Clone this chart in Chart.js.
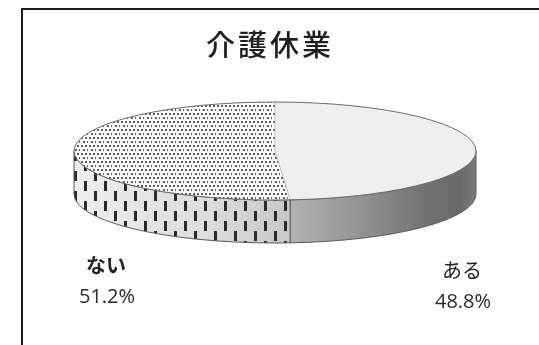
<!DOCTYPE html>
<html lang="ja">
<head>
<meta charset="utf-8">
<title>介護休業</title>
<script src="https://cdn.jsdelivr.net/npm/chart.js@4.4.1/dist/chart.umd.min.js"></script>
<style>
  html, body { margin: 0; padding: 0; background: #fff; overflow: hidden; }
  #wrap { position: relative; width: 539px; height: 345px; }
  #frame { position: absolute; left: 21px; top: 8px; width: 600px; height: 400px; border: 2px solid #1c1c1c; box-sizing: border-box; }
  canvas { position: absolute; left: 0; top: 0; }
</style>
</head>
<body>
<div id="wrap">
  <div id="frame"></div>
  <canvas id="careLeave" width="539" height="345"></canvas>
</div>
<script>
// data
var chartTitle = '介護休業';
var categories = ['ある', 'ない'];
var shares = [48.8, 51.2];

// look of the flattened "3d" pie
var RX = 201;      // half width of the top ellipse
var RY = 49;       // half height of the top ellipse
var DEPTH = 43;    // thickness of the side wall
// label anchors, relative to the pie centre
var labelOffsets = [[187, 119], [-169, 114]];
var labelBold = [false, true];

// small tiles for the pattern fills
function makeTile(w, h, bg, draw) {
  var c = document.createElement('canvas');
  c.width = w; c.height = h;
  var g = c.getContext('2d');
  if (bg) { g.fillStyle = bg; g.fillRect(0, 0, w, h); }
  draw(g);
  return c;
}

var ctx = document.getElementById('careLeave');
var g0 = ctx.getContext('2d');

var dotTile = makeTile(8, 8, '#ffffff', function (g) {
  g.fillStyle = '#5e5e5e';
  [[0, 0], [4, 0], [2, 4], [6, 4]].forEach(function (p) {
    g.fillRect(p[0] + 1, p[1] + 1, 2, 2);
  });
});
var dashTile = makeTile(20, 20, null, function (g) {
  g.fillStyle = '#2a2a2a';
  g.fillRect(4, 1, 3, 10);
  g.fillRect(14, 11, 3, 10);
  g.fillRect(14, -9, 3, 10);
});
var dotPattern = g0.createPattern(dotTile, 'repeat');
var dashPattern = g0.createPattern(dashTile, 'repeat');

function sidePath(c, cx, cy, a1, a2) {
  c.beginPath();
  c.ellipse(cx, cy, RX, RY, 0, a1, a2);
  c.ellipse(cx, cy + DEPTH, RX, RY, 0, a2, a1, true);
  c.closePath();
}

// squashes the library's pie into an ellipse and adds the side wall
var pie3d = {
  id: 'pie3d',
  beforeDatasetsDraw: function (chart) {
    var c = chart.ctx;
    var arcs = chart.getDatasetMeta(0).data;
    var cx = arcs[0].x, cy = arcs[0].y, r = arcs[0].outerRadius;
    var sx = RX / r, sy = RY / r;

    // front wall, only the part between 0 and PI faces the viewer
    arcs.forEach(function (arc, i) {
      var a1 = Math.max(arc.startAngle, 0);
      var a2 = Math.min(arc.endAngle, Math.PI);
      if (a2 <= a1) return;
      c.save();
      sidePath(c, cx, cy, a1, a2);
      if (i === 0) {
        var grad = c.createLinearGradient(cx, 0, cx + RX, 0);
        grad.addColorStop(0, '#b8b8b8');
        grad.addColorStop(0.35, '#9a9a9a');
        grad.addColorStop(0.75, '#727272');
        grad.addColorStop(0.92, '#6a6a6a');
        grad.addColorStop(1, '#7a7a7a');
        c.fillStyle = grad;
        c.fill();
      } else {
        var grad2 = c.createLinearGradient(cx - RX, 0, cx + 20, 0);
        grad2.addColorStop(0, '#eeeeee');
        grad2.addColorStop(0.6, '#dddddd');
        grad2.addColorStop(1, '#c6c6c6');
        c.fillStyle = grad2;
        c.fill();
        c.fillStyle = dashPattern;
        c.fill();
      }
      c.strokeStyle = '#5a5a5a';
      c.lineWidth = 1;
      c.stroke();
      c.restore();
    });

    var m = new DOMMatrix().translate(cx, cy).scale(sx, sy).translate(-cx, -cy);
    dotPattern.setTransform(m.inverse());
    c.save();
    c.setTransform(c.getTransform().multiply(m));
  },
  afterDatasetsDraw: function (chart) {
    var c = chart.ctx;
    c.restore();
    var arcs = chart.getDatasetMeta(0).data;
    var cx = arcs[0].x, cy = arcs[0].y;
    c.save();
    c.strokeStyle = '#b0b0b0';
    c.lineWidth = 0.8;
    arcs.forEach(function (arc) {
      c.beginPath();
      c.moveTo(cx, cy);
      c.lineTo(cx + RX * Math.cos(arc.startAngle), cy + RY * Math.sin(arc.startAngle));
      c.stroke();
    });
    c.strokeStyle = '#6a6a6a';
    c.lineWidth = 1;
    c.beginPath();
    c.ellipse(cx, cy, RX, RY, 0, 0, Math.PI * 2);
    c.stroke();
    c.restore();
  },
  afterDraw: function (chart) {
    var c = chart.ctx;
    var arcs = chart.getDatasetMeta(0).data;
    var cx = arcs[0].x, cy = arcs[0].y;
    c.save();
    c.fillStyle = '#1e1e1e';
    c.textAlign = 'center';
    c.textBaseline = 'middle';
    c.font = '500 29px "Noto Sans CJK JP"';
    c.letterSpacing = '3px';
    c.fillText(chartTitle, 270, 45);
    c.letterSpacing = '0px';
    categories.forEach(function (name, i) {
      var lx = cx + labelOffsets[i][0], ly = cy + labelOffsets[i][1];
      c.fillStyle = '#222';
      c.font = (labelBold[i] ? 'bold ' : '') + '20px "Noto Sans CJK JP"';
      c.fillText(name, lx, ly);
      c.fillStyle = '#2a2a2a';
      c.font = '20px "Open Sans", "Noto Sans CJK JP"';
      c.fillText(shares[i].toFixed(1) + '%', lx + 1, ly + 32);
    });
    c.restore();
  }
};

new Chart(ctx, {
  type: 'pie',
  data: {
    labels: categories,
    datasets: [{
      data: shares,
      backgroundColor: ['#efefef', dotPattern],
      borderWidth: 0,
      clip: false
    }]
  },
  options: {
    responsive: false,
    animation: false,
    events: [],
    layout: { padding: { top: 71, bottom: 114, left: 11, right: 0 } },
    plugins: {
      legend: { display: false },
      tooltip: { enabled: false },
      title: { display: false }
    }
  },
  plugins: [pie3d]
});
</script>
</body>
</html>
